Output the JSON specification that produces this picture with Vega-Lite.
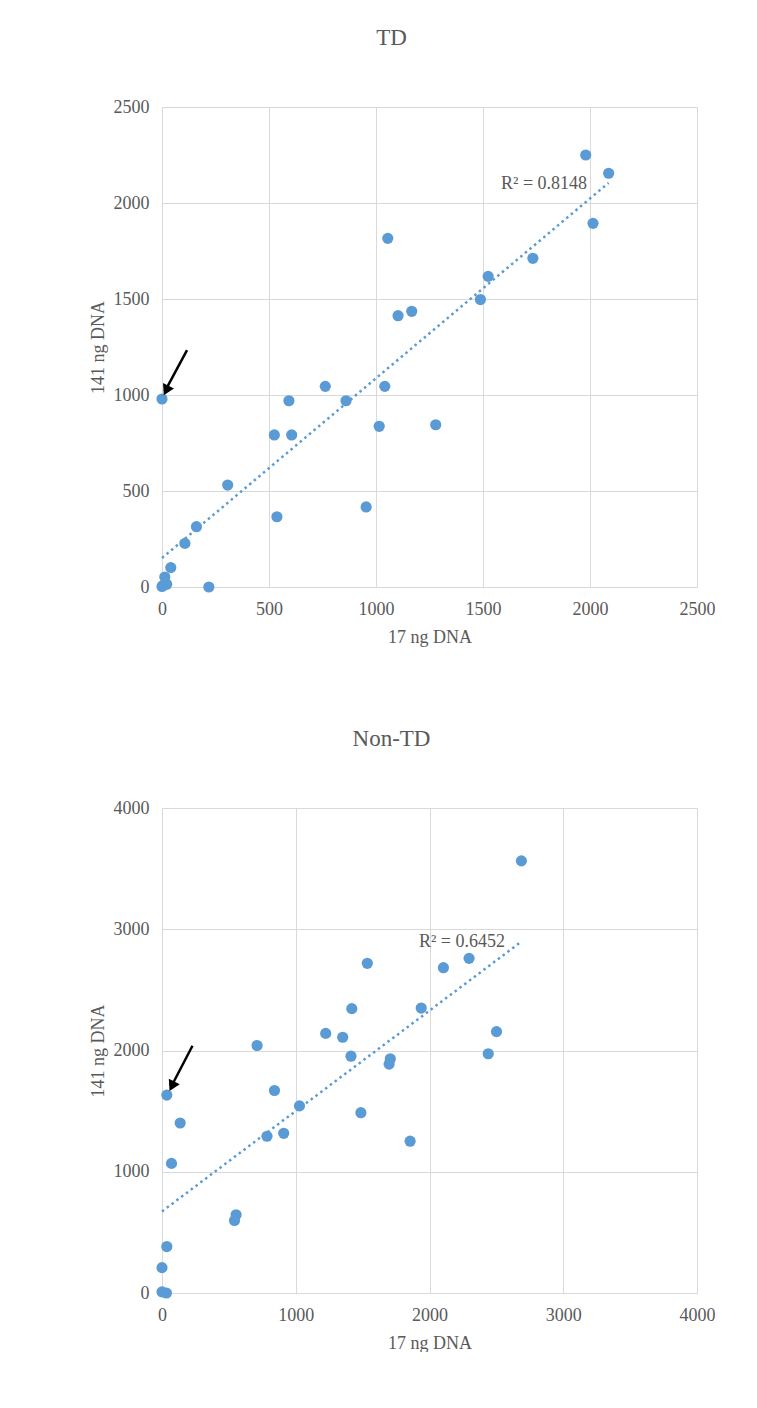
{
  "$schema": "https://vega.github.io/schema/vega-lite/v6.json",
  "background": "white",
  "padding": {"left": 89, "top": 27, "right": 0, "bottom": 0},
  "spacing": 82,
  "config": {
    "font": "Liberation Serif",
    "view": {"stroke": null},
    "axis": {
      "grid": true, "gridColor": "#d9d9d9", "gridWidth": 1,
      "domainColor": "#d9d9d9", "domainWidth": 1, "ticks": false, "labelFlush": false, "format": "d",
      "labelFont": "Liberation Serif", "labelFontSize": 18, "labelColor": "#595959",
      "titleFont": "Liberation Serif", "titleFontSize": 18, "titleColor": "#595959", "titleFontWeight": "normal"
    },
    "axisX": {"labelPadding": 13, "titlePadding": 10},
    "axisY": {"labelPadding": 13, "titlePadding": 6},
    "title": {"font": "Liberation Serif", "fontSize": 23, "fontWeight": "normal", "color": "#595959", "anchor": "middle", "frame": "group"}
  },
  "datasets": {
    "td": [
      {"ng17": 1980, "ng141": 2250}, {"ng17": 2087, "ng141": 2155}, {"ng17": 2014, "ng141": 1894},
      {"ng17": 1055, "ng141": 1816}, {"ng17": 1733, "ng141": 1712}, {"ng17": 1524, "ng141": 1618},
      {"ng17": 1488, "ng141": 1497}, {"ng17": 1103, "ng141": 1413}, {"ng17": 1167, "ng141": 1436},
      {"ng17": 763, "ng141": 1045}, {"ng17": 1041, "ng141": 1045}, {"ng17": 0, "ng141": 979},
      {"ng17": 593, "ng141": 970}, {"ng17": 860, "ng141": 970}, {"ng17": 1015, "ng141": 837},
      {"ng17": 1279, "ng141": 845}, {"ng17": 525, "ng141": 792}, {"ng17": 606, "ng141": 792},
      {"ng17": 307, "ng141": 531}, {"ng17": 537, "ng141": 366}, {"ng17": 954, "ng141": 417},
      {"ng17": 161, "ng141": 314}, {"ng17": 107, "ng141": 227}, {"ng17": 41, "ng141": 101},
      {"ng17": 13, "ng141": 52}, {"ng17": 22, "ng141": 14}, {"ng17": 0, "ng141": 3},
      {"ng17": 219, "ng141": 0}, {"ng17": 5, "ng141": 8}
    ],
    "nontd": [
      {"ng17": 2687, "ng141": 3564}, {"ng17": 2296, "ng141": 2760}, {"ng17": 2104, "ng141": 2683},
      {"ng17": 1535, "ng141": 2719}, {"ng17": 1419, "ng141": 2345}, {"ng17": 1938, "ng141": 2350},
      {"ng17": 2501, "ng141": 2156}, {"ng17": 1224, "ng141": 2141}, {"ng17": 1351, "ng141": 2109},
      {"ng17": 711, "ng141": 2041}, {"ng17": 2439, "ng141": 1973}, {"ng17": 1413, "ng141": 1953},
      {"ng17": 1707, "ng141": 1932}, {"ng17": 1698, "ng141": 1888}, {"ng17": 841, "ng141": 1670},
      {"ng17": 36, "ng141": 1632}, {"ng17": 1028, "ng141": 1543}, {"ng17": 1487, "ng141": 1487},
      {"ng17": 136, "ng141": 1402}, {"ng17": 785, "ng141": 1293}, {"ng17": 910, "ng141": 1317},
      {"ng17": 1855, "ng141": 1252}, {"ng17": 71, "ng141": 1069}, {"ng17": 554, "ng141": 645},
      {"ng17": 542, "ng141": 598}, {"ng17": 36, "ng141": 383}, {"ng17": 0, "ng141": 209},
      {"ng17": 0, "ng141": 9}, {"ng17": 33, "ng141": 0}
    ]
  },
  "vconcat": [
    {
      "width": 535, "height": 480,
      "title": {"text": "TD", "dx": -38, "offset": 48},
      "layer": [
        {
          "data": {"name": "td"},
          "mark": {"type": "circle", "size": 125, "color": "#5B9BD5", "opacity": 1},
          "encoding": {
            "x": {"field": "ng17", "type": "quantitative", "scale": {"domain": [0, 2500], "nice": false}, "axis": {"values": [0, 500, 1000, 1500, 2000, 2500], "title": "17 ng DNA"}},
            "y": {"field": "ng141", "type": "quantitative", "scale": {"domain": [0, 2500], "nice": false}, "axis": {"values": [0, 500, 1000, 1500, 2000, 2500], "title": "141 ng DNA"}}
          }
        },
        {
          "data": {"name": "td"},
          "transform": [{"regression": "ng141", "on": "ng17"}],
          "mark": {"type": "line", "color": "#5B9BD5", "strokeWidth": 2.5, "strokeDash": [2.5, 3.5]},
          "encoding": {
            "x": {"field": "ng17", "type": "quantitative"},
            "y": {"field": "ng141", "type": "quantitative"}
          }
        },
        {
          "data": {"values": [{}]},
          "mark": {"type": "text", "align": "left", "baseline": "middle", "fontSize": 18, "color": "#595959", "font": "Liberation Serif"},
          "encoding": {
            "x": {"datum": 1584, "type": "quantitative"},
            "y": {"datum": 2099, "type": "quantitative"},
            "text": {"value": "R² = 0.8148"}
          }
        },
        {
          "data": {"values": [{}]},
          "mark": {"type": "rule", "color": "black", "strokeWidth": 2.5},
          "encoding": {
            "x": {"datum": 117, "type": "quantitative"},
            "y": {"datum": 1234, "type": "quantitative"},
            "x2": {"datum": 26},
            "y2": {"datum": 1045}
          }
        },
        {
          "data": {"values": [{}]},
          "mark": {"type": "point", "shape": "triangle", "filled": true, "color": "black", "opacity": 1, "size": 150, "angle": 206.6},
          "encoding": {
            "x": {"datum": 23, "type": "quantitative"},
            "y": {"datum": 1032, "type": "quantitative"}
          }
        }
      ]
    },
    {
      "width": 535, "height": 485,
      "title": {"text": "Non-TD", "dx": -38, "offset": 48},
      "layer": [
        {
          "data": {"name": "nontd"},
          "mark": {"type": "circle", "size": 125, "color": "#5B9BD5", "opacity": 1},
          "encoding": {
            "x": {"field": "ng17", "type": "quantitative", "scale": {"domain": [0, 4000], "nice": false}, "axis": {"values": [0, 1000, 2000, 3000, 4000], "title": "17 ng DNA"}},
            "y": {"field": "ng141", "type": "quantitative", "scale": {"domain": [0, 4000], "nice": false}, "axis": {"values": [0, 1000, 2000, 3000, 4000], "title": "141 ng DNA"}}
          }
        },
        {
          "data": {"name": "nontd"},
          "transform": [{"regression": "ng141", "on": "ng17"}],
          "mark": {"type": "line", "color": "#5B9BD5", "strokeWidth": 2.5, "strokeDash": [2.5, 3.5]},
          "encoding": {
            "x": {"field": "ng17", "type": "quantitative"},
            "y": {"field": "ng141", "type": "quantitative"}
          }
        },
        {
          "data": {"values": [{}]},
          "mark": {"type": "text", "align": "left", "baseline": "middle", "fontSize": 18, "color": "#595959", "font": "Liberation Serif"},
          "encoding": {
            "x": {"datum": 1921, "type": "quantitative"},
            "y": {"datum": 2895, "type": "quantitative"},
            "text": {"value": "R² = 0.6452"}
          }
        },
        {
          "data": {"values": [{}]},
          "mark": {"type": "rule", "color": "black", "strokeWidth": 2.5},
          "encoding": {
            "x": {"datum": 228, "type": "quantitative"},
            "y": {"datum": 2039, "type": "quantitative"},
            "x2": {"datum": 82},
            "y2": {"datum": 1730}
          }
        },
        {
          "data": {"values": [{}]},
          "mark": {"type": "point", "shape": "triangle", "filled": true, "color": "black", "opacity": 1, "size": 150, "angle": 206.6},
          "encoding": {
            "x": {"datum": 80, "type": "quantitative"},
            "y": {"datum": 1719, "type": "quantitative"}
          }
        }
      ]
    }
  ]
}
